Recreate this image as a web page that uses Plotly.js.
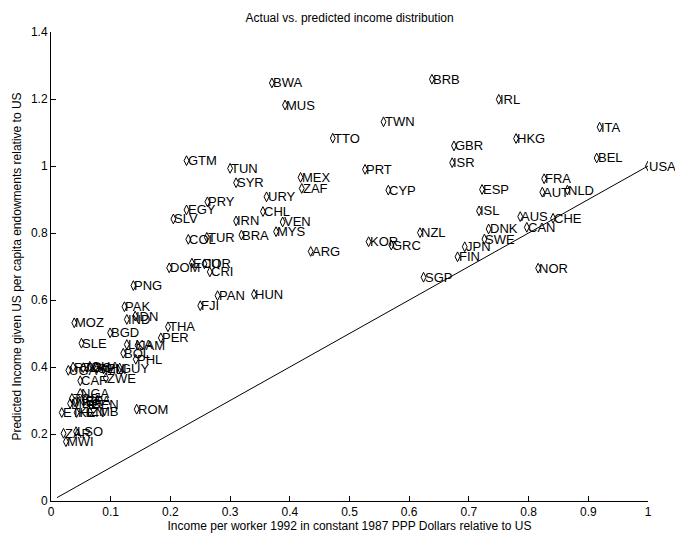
<!DOCTYPE html>
<html>
<head>
<meta charset="utf-8">
<script src="https://cdn.plot.ly/plotly-3.0.1.min.js"></script>
<style>html,body{margin:0;padding:0;background:#fff;}#chart{width:675px;height:541px;}</style>
</head>
<body>
<div id="chart"></div>
<script>
// Country codes
var codes = ["BWA","MUS","BRB","IRL","TWN","ITA","TTO","HKG","GBR","BEL",
  "GTM","ISR","USA","TUN","PRT","MEX","FRA","SYR","ZAF","ESP",
  "CYP","NLD","AUT","URY","PRY","EGY","ISL","CHL","AUS","CHE",
  "SLV","IRN","VEN","CAN","DNK","MYS","NZL","BRA","TUR","SWE",
  "COL","KOR","GRC","JPN","ARG","FIN","ECU","JOR","DOM","NOR",
  "CRI","SGP","PNG","HUN","PAN","FJI","PAK","IDN","IND","MOZ",
  "THA","BGD","PER","SLE","LKA","JAM","BOL","PHL",
  "UGA","RWA","TGO","GHA","SEN","MLI","GUY","CAF","ZWE",
  "NGA","TCD","NER","BFA","MDG","BEN","ETH","KEN","ZMB","ROM",
  "ZAR","LSO","MWI"];
// Actual income per worker relative to US
var actual = [0.370,0.392,0.638,0.750,0.557,0.919,0.472,0.779,0.675,0.914,
  0.227,0.672,1.000,0.300,0.526,0.418,0.826,0.310,0.420,0.722,
  0.565,0.865,0.823,0.361,0.262,0.227,0.717,0.355,0.786,0.841,
  0.205,0.310,0.388,0.797,0.733,0.377,0.618,0.319,0.261,0.726,
  0.230,0.532,0.570,0.693,0.435,0.681,0.236,0.257,0.198,0.816,
  0.266,0.624,0.138,0.340,0.279,0.250,0.123,0.141,0.127,0.039,
  0.196,0.099,0.184,0.051,0.127,0.145,0.121,0.142,
  0.029,0.037,0.054,0.065,0.077,0.088,0.115,0.049,0.092,
  0.049,0.035,0.040,0.057,0.032,0.067,0.018,0.043,0.065,0.1435,
  0.021,0.042,0.025];
// Predicted income given endowments relative to US
var predicted = [1.248,1.182,1.259,1.199,1.132,1.116,1.083,1.082,1.060,1.024,
  1.016,1.010,1.000,0.993,0.990,0.966,0.962,0.950,0.933,0.930,
  0.928,0.928,0.922,0.908,0.893,0.869,0.866,0.864,0.849,0.844,
  0.842,0.836,0.833,0.817,0.812,0.804,0.801,0.794,0.787,0.782,
  0.781,0.774,0.764,0.759,0.745,0.729,0.710,0.708,0.696,0.695,
  0.684,0.668,0.643,0.617,0.613,0.583,0.580,0.552,0.542,0.532,
  0.520,0.502,0.487,0.471,0.467,0.465,0.441,0.423,
  0.390,0.400,0.398,0.402,0.396,0.394,0.397,0.359,0.367,
  0.321,0.306,0.296,0.301,0.291,0.287,0.264,0.264,0.266,0.274,
  0.202,0.207,0.177];
// 45-degree reference line
var lineX = [0.01, 1];
var lineY = [0.01, 1];
// Tick labels
var xTickVals = [0,0.1,0.2,0.3,0.4,0.5,0.6,0.7,0.8,0.9,1];
var xTickText = ["0","0.1","0.2","0.3","0.4","0.5","0.6","0.7","0.8","0.9","1"];
var yTickVals = [0,0.2,0.4,0.6,0.8,1,1.2,1.4];
var yTickText = ["0","0.2","0.4","0.6","0.8","1","1.2","1.4"];

var FONT = "Liberation Sans, Arial, Helvetica, sans-serif";

var traces = [
  {x: lineX, y: lineY, mode: "lines", type: "scatter",
   line: {color: "black", width: 1}, hoverinfo: "skip"},
  {x: actual, y: predicted, mode: "markers", type: "scatter",
   marker: {symbol: "diamond-tall-open", size: 7, color: "black", line: {width: 1, color: "black"}},
   text: codes}
];

var annotations = codes.map(function(c, i) {
  return {x: actual[i], y: predicted[i], xref: "x", yref: "y", text: c,
    showarrow: false, xanchor: "left", yanchor: "middle", xshift: -1, yshift: 0,
    font: {family: FONT, size: 13, color: "black"}};
});

var layout = {
  width: 675, height: 541,
  margin: {l: 51, r: 27, t: 32, b: 40, pad: 0},
  paper_bgcolor: "white", plot_bgcolor: "white",
  showlegend: false,
  font: {family: FONT, size: 12, color: "black"},
  title: {text: "Actual vs. predicted income distribution", x: 0.518, xanchor: "center",
          y: 0.968, yanchor: "middle", font: {family: FONT, size: 12, color: "black"}},
  xaxis: {range: [0, 1], tickvals: xTickVals, ticktext: xTickText,
    ticks: "inside", ticklen: 5, tickcolor: "black", tickwidth: 1,
    showline: true, linecolor: "black", linewidth: 1, mirror: false,
    showgrid: false, zeroline: false, automargin: false,
    tickfont: {family: FONT, size: 12, color: "black"},
    title: {text: "Income per worker 1992 in constant 1987 PPP Dollars relative to US",
            standoff: 0, font: {family: FONT, size: 12, color: "black"}}},
  yaxis: {range: [0, 1.4], tickvals: yTickVals, ticktext: yTickText,
    ticks: "inside", ticklen: 5, tickcolor: "black", tickwidth: 1,
    showline: true, linecolor: "black", linewidth: 1, mirror: false,
    showgrid: false, zeroline: false, automargin: false,
    tickfont: {family: FONT, size: 12, color: "black"},
    title: {text: "Predicted Income given US per capita endowments relative to US",
            standoff: 6, font: {family: FONT, size: 12, color: "black"}}},
  annotations: annotations
};

Plotly.newPlot("chart", traces, layout, {displayModeBar: false, staticPlot: true});
</script>
</body>
</html>
